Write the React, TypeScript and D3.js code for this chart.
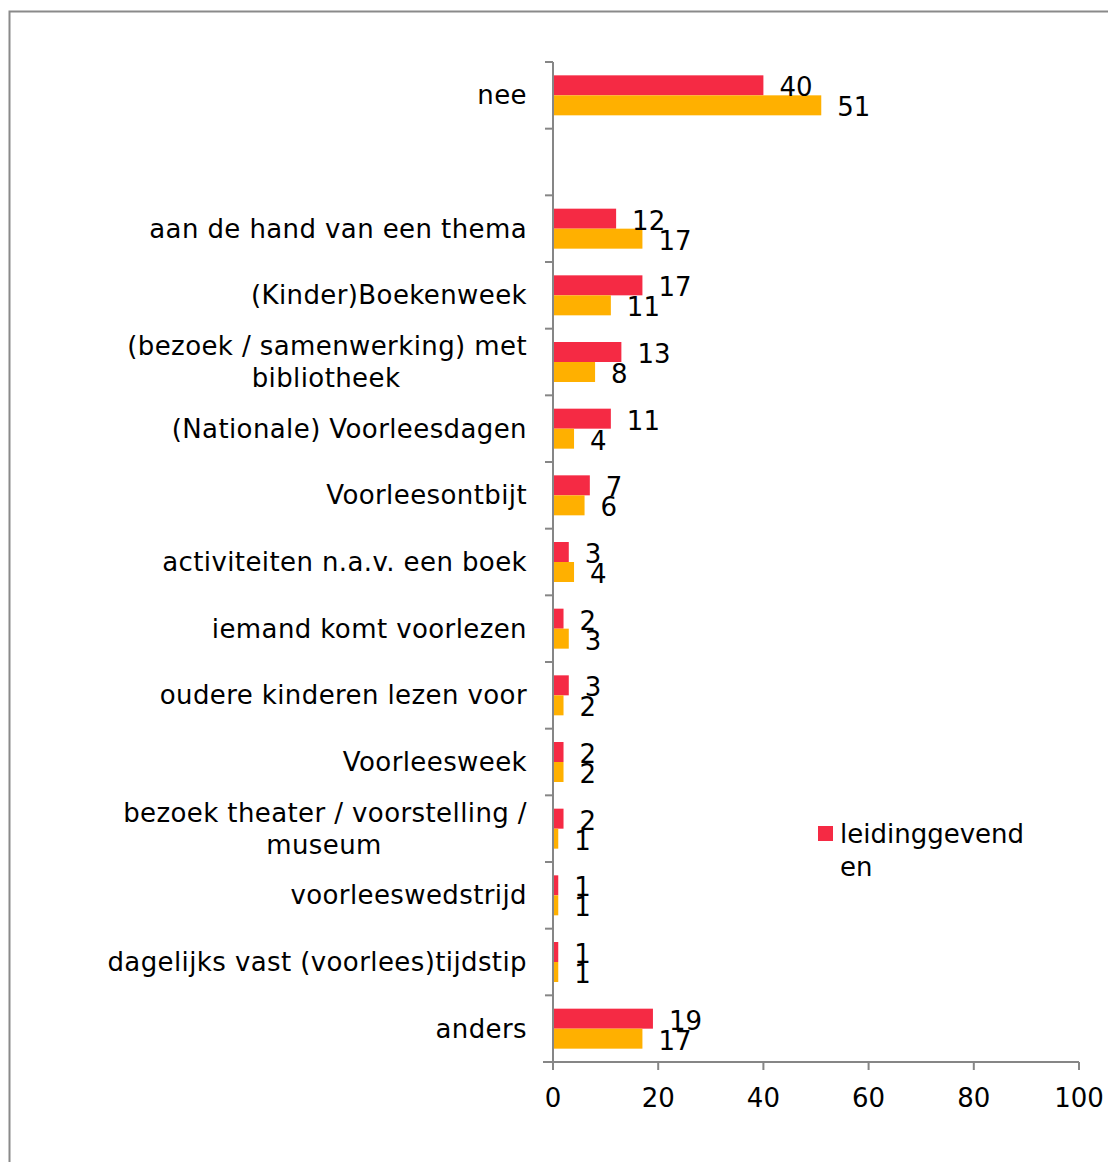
import React, { useEffect } from "react";
import * as d3 from "d3";

const categories: string[][] = [
  ["nee"],
  [],
  ["aan de hand van een thema"],
  ["(Kinder)Boekenweek"],
  ["(bezoek / samenwerking) met", "bibliotheek"],
  ["(Nationale) Voorleesdagen"],
  ["Voorleesontbijt"],
  ["activiteiten n.a.v. een boek"],
  ["iemand komt voorlezen"],
  ["oudere kinderen lezen voor"],
  ["Voorleesweek"],
  ["bezoek theater / voorstelling /", "museum"],
  ["voorleeswedstrijd"],
  ["dagelijks vast (voorlees)tijdstip"],
  ["anders"],
];

const leidinggevenden: (number | null)[] = [40, null, 12, 17, 13, 11, 7, 3, 2, 3, 2, 2, 1, 1, 19];
const leerkrachten: (number | null)[] = [51, null, 17, 11, 8, 4, 6, 4, 3, 2, 2, 1, 1, 1, 17];

const xTicks = [0, 20, 40, 60, 80, 100];
const legendLines = ["leidinggevend", "en"];

const RED = "#F52A44";
const ORANGE = "#FFB000";
const AXIS = "#868686";
const FONT = "DejaVu Sans, Verdana, sans-serif";
const FS = 26;

export default function App() {
  useEffect(() => {
    document.body.style.margin = "0";
  }, []);

  const W = 1108;
  const H = 1162;
  const x = d3.scaleLinear().domain([0, 100]).range([553, 1079]);
  const y = d3
    .scaleBand<string>()
    .domain(categories.map((_, i) => String(i)))
    .range([62, 1062])
    .padding(0);
  const inner = d3
    .scaleBand<string>()
    .domain(["a", "b"])
    .range([0, y.bandwidth()])
    .paddingInner(0)
    .paddingOuter(0.667);

  const series = [
    { key: "a", values: leidinggevenden, color: RED },
    { key: "b", values: leerkrachten, color: ORANGE },
  ];

  const boundaries = d3.range(categories.length + 1).map((i) => 62 + i * y.step());

  return (
    <svg width={W} height={H} style={{ display: "block" }} fontFamily={FONT}>
      <rect x={0} y={0} width={W} height={H} fill="#fff" />
      <rect x={9.5} y={11.5} width={W + 50} height={H + 50} fill="none" stroke="#8a8a8a" strokeWidth={2} />

      {/* bars */}
      {series.map((s) =>
        s.values.map((v, i) =>
          v == null ? null : (
            <rect
              key={s.key + i}
              x={x(0)}
              y={(y(String(i)) as number) + (inner(s.key) as number)}
              width={x(v) - x(0)}
              height={inner.bandwidth()}
              fill={s.color}
            />
          )
        )
      )}

      {/* y axis */}
      <line x1={553} x2={553} y1={62} y2={1062} stroke={AXIS} strokeWidth={2} />
      {boundaries.map((b, i) => (
        <line key={"yt" + i} x1={545} x2={553} y1={b} y2={b} stroke={AXIS} strokeWidth={2} />
      ))}

      {/* x axis */}
      <line x1={543} x2={x(100)} y1={1062} y2={1062} stroke={AXIS} strokeWidth={2} />
      {xTicks.map((t) => (
        <g key={"xt" + t}>
          <line x1={x(t)} x2={x(t)} y1={1062} y2={1070} stroke={AXIS} strokeWidth={2} />
          <text x={x(t)} y={1107} fontSize={FS} textAnchor="middle" fill="#000">
            {t}
          </text>
        </g>
      ))}

      {/* category labels */}
      {categories.map((lines, i) => {
        const c = (y(String(i)) as number) + y.bandwidth() / 2;
        if (lines.length === 0) return null;
        const first = c - ((lines.length - 1) * 32) / 2 + 9;
        if (lines.length === 1) {
          return (
            <text key={"c" + i} x={527} y={first} fontSize={FS} textAnchor="end" fill="#000" letterSpacing={0.4}>
              {lines[0]}
            </text>
          );
        }
        return (
          <g key={"c" + i}>
            <text x={527} y={first} fontSize={FS} textAnchor="end" fill="#000" letterSpacing={0.4}>
              {lines[0]}
            </text>
            {lines.slice(1).map((ln, j) => (
              <text
                key={j}
                x={i === 4 ? 326 : 324}
                y={first + 32 * (j + 1)}
                fontSize={FS}
                textAnchor="middle"
                fill="#000"
                letterSpacing={0.4}
              >
                {ln}
              </text>
            ))}
          </g>
        );
      })}

      {/* value labels */}
      {series.map((s) =>
        s.values.map((v, i) =>
          v == null ? null : (
            <text
              key={"v" + s.key + i}
              x={x(v) + 16}
              y={(y(String(i)) as number) + (inner(s.key) as number) + inner.bandwidth() / 2 + 11}
              fontSize={FS}
              fill="#000"
            >
              {v}
            </text>
          )
        )
      )}

      {/* legend */}
      <rect x={818} y={826} width={15} height={15} fill={RED} />
      {legendLines.map((ln, j) => (
        <text key={"l" + j} x={840} y={843 + j * 33} fontSize={FS} fill="#000">
          {ln}
        </text>
      ))}
    </svg>
  );
}
